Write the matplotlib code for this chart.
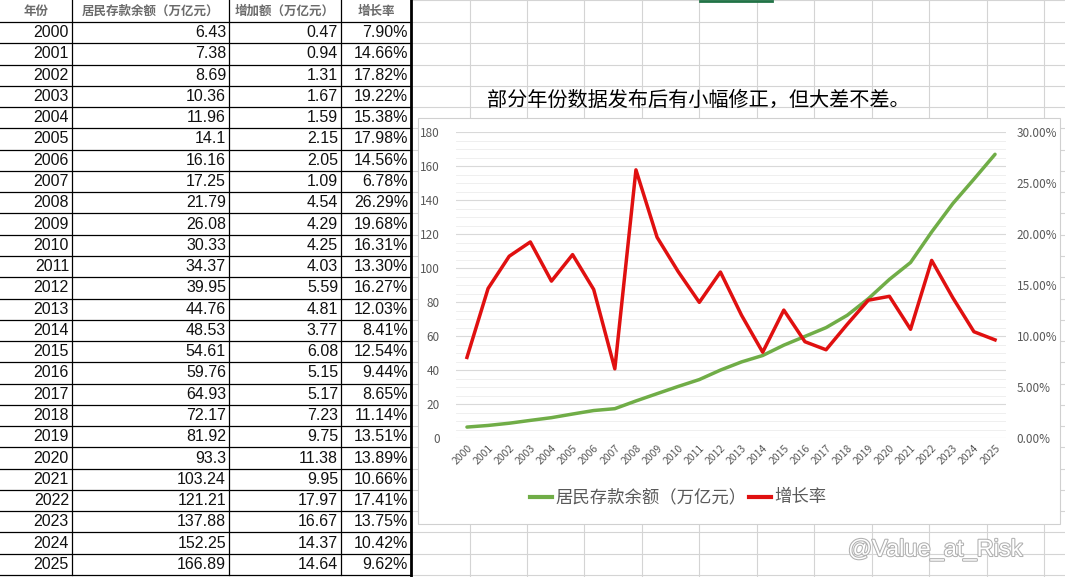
import matplotlib
matplotlib.use("Agg")
import matplotlib.pyplot as plt
from matplotlib.patches import Rectangle
import matplotlib.patheffects as pe

plt.rcParams['font.family'] = ['Noto Sans CJK SC', 'DejaVu Sans']

years = list(range(2000, 2026))
balance = [6.43, 7.38, 8.69, 10.36, 11.96, 14.1, 16.16, 17.25, 21.79, 26.08, 30.33, 34.37, 39.95,
           44.76, 48.53, 54.61, 59.76, 64.93, 72.17, 81.92, 93.3, 103.24, 121.21, 137.88, 152.25, 166.89]
increase = [0.47, 0.94, 1.31, 1.67, 1.59, 2.15, 2.05, 1.09, 4.54, 4.29, 4.25, 4.03, 5.59, 4.81,
            3.77, 6.08, 5.15, 5.17, 7.23, 9.75, 11.38, 9.95, 17.97, 16.67, 14.37, 14.64]
growth = [7.90, 14.66, 17.82, 19.22, 15.38, 17.98, 14.56, 6.78, 26.29, 19.68, 16.31, 13.30, 16.27,
          12.03, 8.41, 12.54, 9.44, 8.65, 11.14, 13.51, 13.89, 10.66, 17.41, 13.75, 10.42, 9.62]
headers = ["年份", "居民存款余额（万亿元）", "增加额（万亿元）", "增长率"]
title = "部分年份数据发布后有小幅修正，但大差不差。"
s1_name = "居民存款余额（万亿元）"
s2_name = "增长率"

W, H = 1065, 577
fig = plt.figure(figsize=(W/100, H/100), dpi=100)
bg = fig.add_axes([0, 0, 1, 1])
bg.set_xlim(0, W); bg.set_ylim(H, 0); bg.axis('off')

row_h = (575 - 22) / 26
rows_y = [0, 22] + [22 + row_h*(i+1) for i in range(26)]
cols = [0, 72, 229, 341, 411]

for y in rows_y:
    bg.plot([411, W], [y, y], color='#d4d4d4', lw=0.8, zorder=1)
for x in [470, 527, 584, 642, 699, 757, 814, 872, 929, 987, 1044]:
    bg.plot([x, x], [0, H], color='#d4d4d4', lw=0.8, zorder=1)
bg.plot([700, 772], [1, 1], color='#217346', lw=2, zorder=1)

for y in rows_y[1:]:
    bg.plot([0, 411], [y, y], color='black', lw=0.9)
for x in cols[1:4]:
    bg.plot([x, x], [0, 575], color='black', lw=0.9)
bg.plot([411, 411], [0, H], color='black', lw=2)

tf = ['Liberation Sans', 'Noto Sans CJK SC']
for j, h in enumerate(headers):
    bg.text((cols[j]+cols[j+1])/2, 11, h, ha='center', va='center', fontsize=9,
            color='#6b6b6b', fontweight='bold')
for i in range(26):
    yc = (rows_y[i+1] + rows_y[i+2]) / 2
    vals = [str(years[i]), f"{balance[i]:g}", f"{increase[i]:g}", f"{growth[i]:.2f}%"]
    for j, v in enumerate(vals):
        bg.text(cols[j+1]-3, yc, v, ha='right', va='center', fontsize=11.5, family=tf, color='#111111')

bg.text(487, 100, title, ha='left', va='center', fontsize=14.5, color='black', zorder=5)

bg.add_patch(Rectangle((418, 118), 642, 406, facecolor='white', edgecolor='#d0d0d0', lw=0.8, zorder=3))

L, R, T, B = 456.4, 1005.6, 132, 438
ax = fig.add_axes([L/W, 1-B/H, (R-L)/W, (B-T)/H])
ax.patch.set_alpha(0)
x = list(range(26))
ax.set_xlim(-0.5, 25.5)
ax.set_ylim(0, 180)
ax.set_yticks(range(0, 181, 20))
ax.set_yticks(range(0, 181, 5), minor=True)
ax.grid(axis='y', which='major', color='#d9d9d9', lw=0.8)
ax.grid(axis='y', which='minor', color='#ececec', lw=0.6)
for s in ax.spines.values():
    s.set_visible(False)
ax.tick_params(axis='both', which='both', length=0, labelsize=8.5, colors='#595959')
ax.tick_params(axis='y', pad=12)
ax.set_xticks(x)
ax.set_xticklabels([str(y) for y in years], rotation=45, ha='right', rotation_mode='anchor', fontsize=7.5)
ax.plot(x, balance, color='#70AD47', lw=2.5, solid_capstyle='round')

ax2 = ax.twinx()
ax2.set_ylim(0, 30)
ax2.set_yticks(range(0, 31, 5))
ax2.set_yticklabels([f"{v:.2f}%" for v in range(0, 31, 5)])
for s in ax2.spines.values():
    s.set_visible(False)
ax2.tick_params(axis='y', length=0, labelsize=8.5, colors='#595959', pad=8)
ax2.plot(x, growth, color='#E01010', lw=2.5)

bg.plot([530, 552], [497, 497], color='#70AD47', lw=3, zorder=5)
bg.text(555, 497, s1_name, ha='left', va='center', fontsize=12.5, color='#595959', zorder=5)
bg.plot([749, 771], [497, 497], color='#E01010', lw=3, zorder=5)
bg.text(774, 497, s2_name, ha='left', va='center', fontsize=12.5, color='#595959', zorder=5)

bg.text(848, 550, "@Value_at_Risk", ha='left', va='center', fontsize=17, color='white',
        family='Liberation Sans', zorder=5,
        path_effects=[pe.withStroke(linewidth=1.5, foreground='#b0b0b0')])

fig.savefig("out.png", dpi=100)
